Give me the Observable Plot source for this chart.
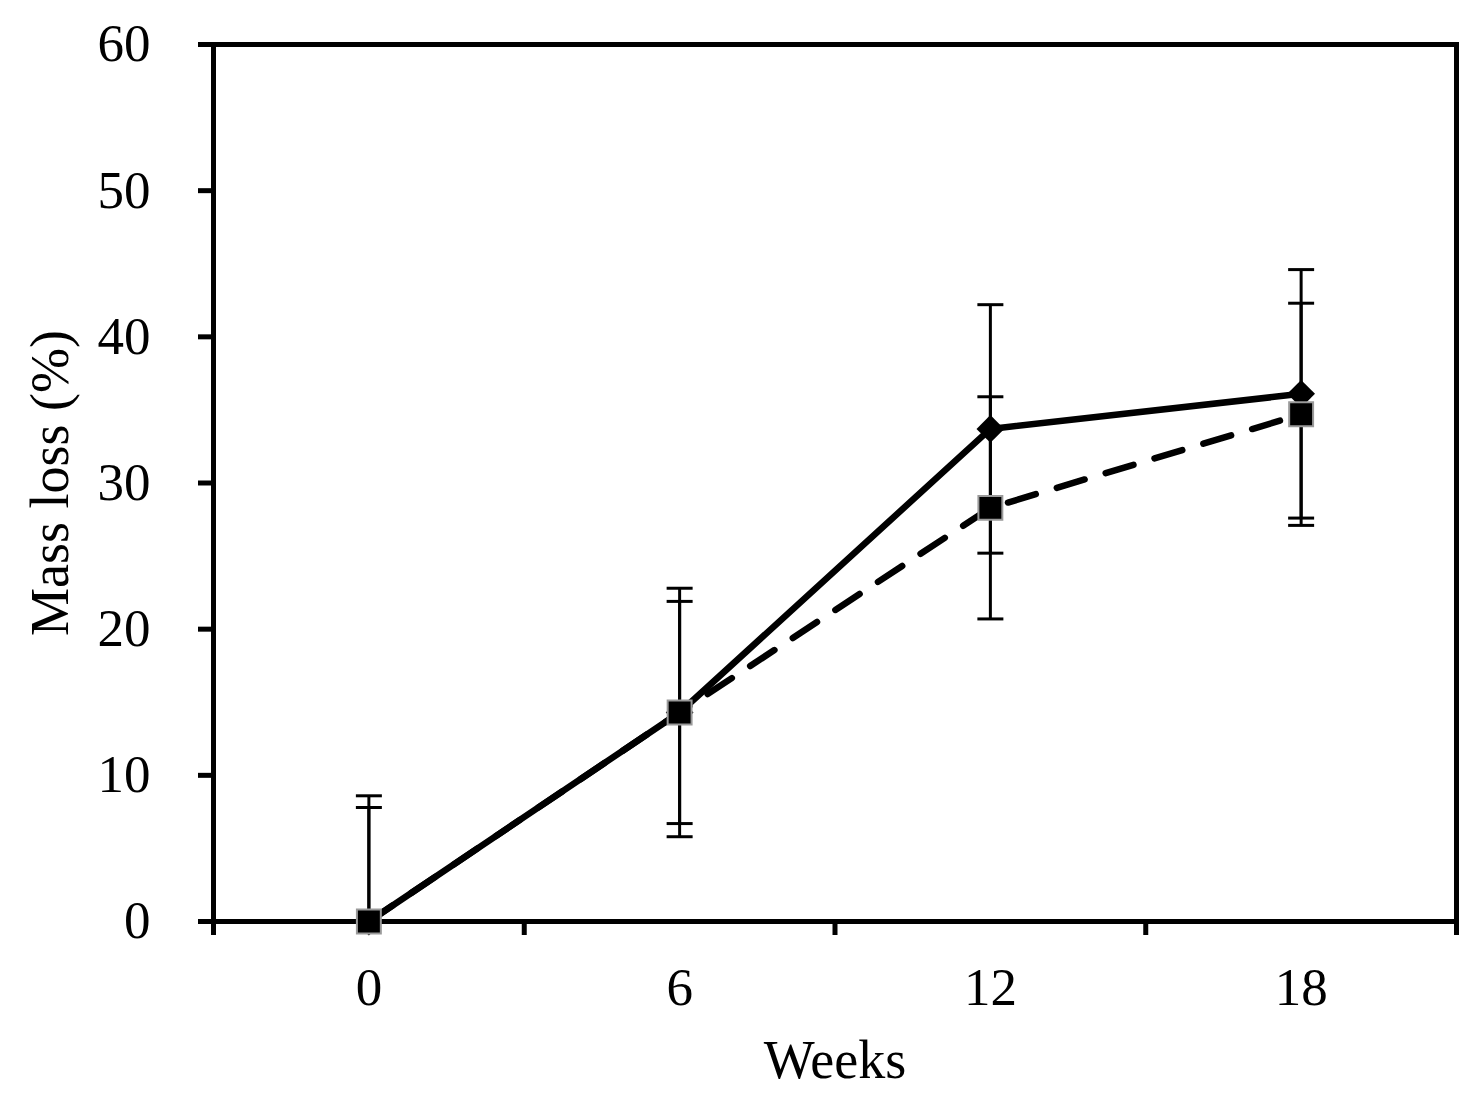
<!DOCTYPE html>
<html>
<head>
<meta charset="utf-8">
<script src="https://cdn.jsdelivr.net/npm/d3@7"></script>
<script src="https://cdn.jsdelivr.net/npm/@observablehq/plot@0.6"></script>
<style>
  html, body { margin: 0; padding: 0; background: #fff; }
  #chart svg { display: block; }
</style>
</head>
<body>
<div id="chart"></div>
<script>
// ---- data ----
const weeks = [0, 6, 12, 18];
const massLossSolid = [0, 14.3, 33.7, 36.1];   // solid line, diamonds
const errSolid      = [8.6, 8.5, 8.5, 8.5];
const massLossDashed = [0, 14.3, 28.3, 34.7];  // dashed line, squares
const errDashed      = [7.8, 7.6, 7.6, 7.6];
const yTicks = [0, 10, 20, 30, 40, 50, 60];
const xLabelTicks = [0, 6, 12, 18];
const xBoundaryTicks = [-3, 3, 9, 15, 21];
const xLabel = "Weeks";
const yLabel = "Mass loss (%)";

const solid = weeks.map((w, i) => ({week: w, value: massLossSolid[i], lo: massLossSolid[i] - errSolid[i], hi: massLossSolid[i] + errSolid[i]}));
const dashed = weeks.map((w, i) => ({week: w, value: massLossDashed[i], lo: massLossDashed[i] - errDashed[i], hi: massLossDashed[i] + errDashed[i]}));
const bars = solid.concat(dashed);

// horizontal cap symbol for error bars
const capSymbol = {
  draw(context, size) {
    const r = Math.sqrt(size / Math.PI);
    context.moveTo(-r, 0);
    context.lineTo(r, 0);
  }
};

const font = "'Liberation Serif', 'Times New Roman', serif";

const chart = Plot.plot({
  width: 1472,
  height: 1095,
  marginLeft: 213,
  marginRight: 16,
  marginTop: 44,
  marginBottom: 174,
  style: {fontFamily: font, color: "#000", background: "#fff"},
  x: {domain: [-3, 21]},
  y: {domain: [0, 60]},
  marks: [
    Plot.axisY({ticks: yTicks, tickSize: 15, tickPadding: 48, fontSize: 53, strokeWidth: 5, label: null}),
    Plot.axisX({ticks: xBoundaryTicks, tickSize: 14, strokeWidth: 5, tickFormat: () => "", label: null}),
    Plot.axisX({ticks: xLabelTicks, tickSize: 0, tickPadding: 46, fontSize: 53, label: null}),
    Plot.frame({stroke: "#000", strokeWidth: 5}),
    Plot.text([yLabel], {frameAnchor: "left", dx: -163, rotate: -90, text: d => d, fontSize: 54, fill: "#000", textAnchor: "middle", lineAnchor: "middle"}),
    Plot.text([xLabel], {frameAnchor: "bottom", dy: 139, text: d => d, fontSize: 54, fill: "#000", textAnchor: "middle", lineAnchor: "middle"}),
    Plot.line(solid, {x: "week", y: "value", stroke: "#000", strokeWidth: 6.5}),
    Plot.line(dashed, {x: "week", y: "value", stroke: "#000", strokeWidth: 6.5, strokeDasharray: "29,22"}),
    Plot.ruleX(bars, {x: "week", y1: "lo", y2: "hi", stroke: "#000", strokeWidth: 3, clip: true}),
    Plot.dot(bars, {x: "week", y: "hi", symbol: capSymbol, r: 13, stroke: "#000", strokeWidth: 3, fill: "none", clip: true}),
    Plot.dot(bars, {x: "week", y: "lo", symbol: capSymbol, r: 13, stroke: "#000", strokeWidth: 3, fill: "none", clip: true}),
    Plot.dot(solid, {x: "week", y: "value", symbol: "diamond2", r: 12.5, fill: "#000", stroke: "none"}),
    Plot.dot(dashed, {x: "week", y: "value", symbol: "square", r: 13.5, fill: "#000", stroke: "#9a9a9a", strokeWidth: 2})
  ]
});
document.getElementById("chart").appendChild(chart);
</script>
</body>
</html>
